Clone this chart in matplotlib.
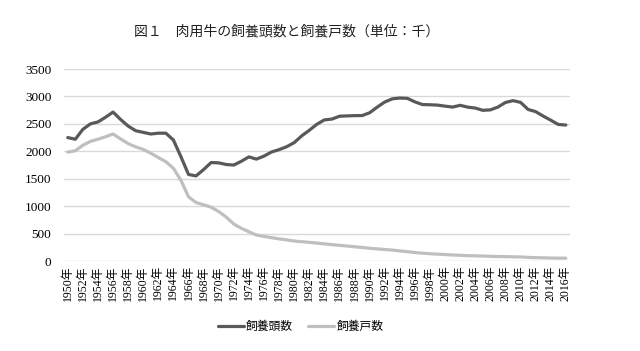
import matplotlib
matplotlib.use("Agg")
import matplotlib.pyplot as plt

# 年 (1950-2016)
years = list(range(1950, 2017))

# 飼養頭数 (千頭)
heads = [2250, 2220, 2400, 2500, 2535, 2620, 2715, 2580, 2460, 2375, 2345, 2315, 2330, 2330, 2205,
         1900, 1577, 1551, 1667, 1795, 1789, 1759, 1749, 1818, 1898, 1857, 1912, 1987, 2030, 2083,
         2157, 2281, 2382, 2492, 2572, 2587, 2639, 2645, 2650, 2651, 2702, 2805, 2898, 2956, 2971,
         2965, 2901, 2852, 2848, 2842, 2823, 2806, 2838, 2805, 2788, 2747, 2755, 2806, 2890, 2923,
         2892, 2763, 2723, 2642, 2567, 2489, 2479]

# 飼養戸数 (千戸)
farms = [1985, 2010, 2110, 2180, 2220, 2265, 2315, 2225, 2140, 2080, 2035, 1965, 1885, 1810, 1690,
         1470, 1170, 1065, 1025, 980, 902, 800, 674, 596, 533, 474, 449, 425, 404, 385,
         364, 352, 340, 327, 312, 298, 286, 273, 260, 246, 232, 221, 210, 199, 184,
         170, 154, 143, 133, 125, 117, 110, 104, 98, 94, 90, 86, 82, 80, 77,
         74, 66, 61, 58, 54, 52, 52]

yticks = [0, 500, 1000, 1500, 2000, 2500, 3000, 3500]
xlabels = [f"{y}年" for y in years[::2]]

# 数字は明朝っぽく、和文はゴシックで代用
plt.rcParams["font.family"] = ["Liberation Serif", "DejaVu Serif", "Noto Sans CJK JP"]
jp = ["Noto Sans CJK JP", "DejaVu Sans"]

fig = plt.figure(figsize=(6.4, 3.51), dpi=100)
ax = fig.add_axes([0.1, 0.2564, 0.79, 0.547])

ax.plot(years, heads, color="#595959", lw=2.3, label="飼養頭数", solid_capstyle="round")
ax.plot(years, farms, color="#bfbfbf", lw=2.3, label="飼養戸数", solid_capstyle="round")

ax.set_xlim(1949.5, 2016.5)
ax.set_ylim(0, 3500)
ax.set_yticks(yticks)
ax.set_yticklabels([str(v) for v in yticks], fontsize=9.5)
ax.set_xticks(years[::2])
ax.set_xticklabels(xlabels, rotation=90, fontsize=8.5)
ax.tick_params(length=0)
ax.tick_params(axis="y", pad=9)
ax.tick_params(axis="x", pad=3)
ax.grid(axis="y", color="#d9d9d9", lw=1)
ax.set_axisbelow(True)
for s in ax.spines.values():
    s.set_visible(False)

fig.text(0.448, 0.91, "図１　肉用牛の飼養頭数と飼養戸数（単位：千）", ha="center", va="center",
         family=jp, fontsize=10, color="#222222")

leg = fig.legend(loc="center", bbox_to_anchor=(0.47, 0.07), ncol=2, frameon=False,
                 prop={"family": jp, "size": 8.5}, handlelength=2.2, columnspacing=1.3,
                 handletextpad=0.2)

fig.savefig("out.png", dpi=100)
